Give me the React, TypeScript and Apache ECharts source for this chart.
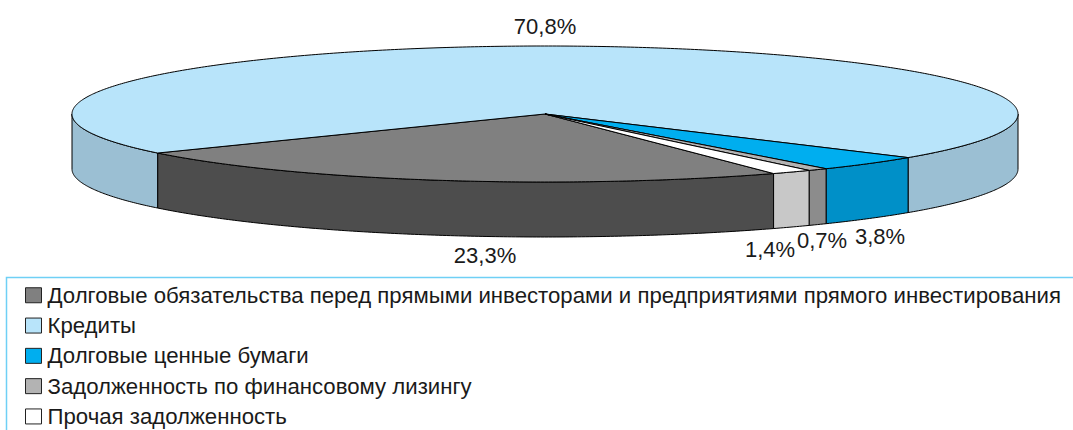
import React, { useEffect, useRef } from "react";
import * as echarts from "echarts";

const categories = [
  "Долговые обязательства перед прямыми инвесторами и предприятиями прямого инвестирования",
  "Кредиты",
  "Долговые ценные бумаги",
  "Задолженность по финансовому лизингу",
  "Прочая задолженность",
];
const shares = [23.3, 70.8, 3.8, 0.7, 1.4];
const topColors = ["#808080", "#b8e4fa", "#00aeef", "#b3b3b3", "#ffffff"];
const sideColors = ["#4d4d4d", "#9bbfd3", "#0090c8", "#8c8c8c", "#c8c8c8"];
const labelCenters = [
  [485, 255],
  [545, 26],
  [880, 236],
  [822, 240],
  [770, 249],
];

const CX = 545;
const CY = 114;
const RX = 473;
const RY = 68;
const DEPTH = 55;
const START_DEG = 61.1;
const total = shares.reduce((a, b) => a + b, 0);

function pt(deg: number, dy = 0): number[] {
  const a = (deg * Math.PI) / 180;
  return [CX + RX * Math.cos(a), CY + RY * Math.sin(a) + dy];
}

function arcPts(from: number, to: number, dy = 0): number[][] {
  const out: number[][] = [];
  const n = Math.max(2, Math.ceil(Math.abs(to - from) * 2));
  for (let i = 0; i <= n; i++) out.push(pt(from + ((to - from) * i) / n, dy));
  return out;
}

function sidePolygons(from: number, to: number): number[][][] {
  // Only the part of the rim facing the viewer (screen angles 0..180, mod 360).
  const res: number[][][] = [];
  for (const k of [0, 360]) {
    const a = Math.max(from, k);
    const b = Math.min(to, k + 180);
    if (b > a) {
      res.push([...arcPts(a, b), ...arcPts(b, a, DEPTH)]);
    }
  }
  return res;
}

function makeSeries(idx: number) {
  const before = shares.slice(0, idx).reduce((a, b) => a + b, 0);
  const from = START_DEG + (before / total) * 360;
  return {
    type: "custom",
    name: categories[idx],
    coordinateSystem: "none",
    silent: true,
    itemStyle: { color: topColors[idx] },
    z: 2,
    data: [[shares[idx]]],
    renderItem: (_p: any, api: any) => {
      const v = api.value(0) as number;
      const to = from + (v / total) * 360;
      const line = { stroke: "#000", lineWidth: 1, lineJoin: "round" };
      const children: any[] = sidePolygons(from, to).map((points) => ({
        type: "polygon",
        shape: { points },
        style: { fill: sideColors[idx], ...line },
        z2: 1,
      }));
      children.push({
        type: "polygon",
        shape: { points: [[CX, CY], ...arcPts(from, to)] },
        style: { fill: topColors[idx], ...line },
        z2: 2,
      });
      children.push({
        type: "text",
        x: labelCenters[idx][0],
        y: labelCenters[idx][1],
        style: {
          text: v.toFixed(1).replace(".", ",") + "%",
          fill: "#1a1a1a",
          font: "22px 'Liberation Sans'",
          align: "center",
          verticalAlign: "middle",
        },
        z2: 3,
      });
      return { type: "group", children };
    },
  };
}

export default function App() {
  const ref = useRef<HTMLDivElement>(null);
  useEffect(() => {
    const chart = echarts.init(ref.current!, null, { renderer: "svg" });
    chart.setOption({
      animation: false,
      backgroundColor: "#ffffff",
      legend: {
        orient: "vertical",
        left: 25,
        top: 284,
        width: 1045,
        height: 400,
        padding: 0,
        itemWidth: 16,
        itemHeight: 15,
        itemGap: 7.8,
        icon: "rect",
        selectedMode: false,
        textStyle: { color: "#1a1a1a", fontFamily: "Liberation Sans", fontSize: 22.2, lineHeight: 22.5, padding: [0, 0, 0, 1] },
        data: categories.map((name, i) => ({
          name,
          itemStyle: { color: topColors[i], borderColor: "#222", borderWidth: 1 },
        })),
      },
      graphic: [
        {
          type: "polyline",
          shape: { points: [[1073, 277.5], [6.5, 277.5], [6.5, 430]] },
          style: { stroke: "#6fd0f5", lineWidth: 1.5, fill: "none" },
        },
      ],
      series: categories.map((_, i) => makeSeries(i)),
    });
    return () => chart.dispose();
  }, []);
  return (
    <div style={{ position: "fixed", left: 0, top: 0 }}>
      <div ref={ref} style={{ width: 1073, height: 430 }} />
    </div>
  );
}
